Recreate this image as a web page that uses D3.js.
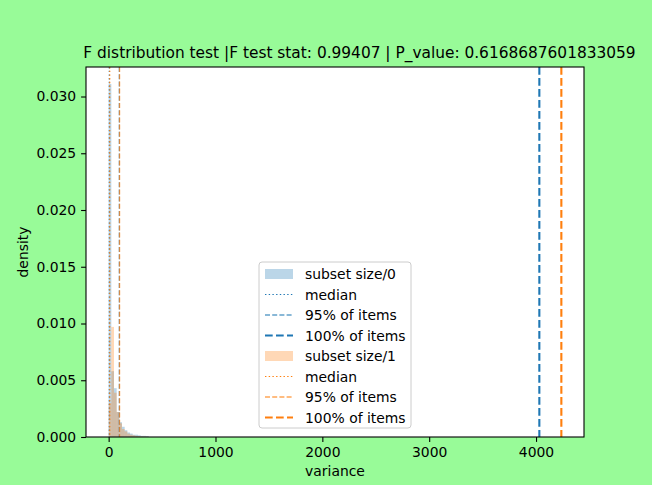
<!DOCTYPE html>
<html>
<head>
<meta charset="utf-8">
<script src="https://cdn.jsdelivr.net/npm/d3@7"></script>
<style>
  body { margin: 0; background: #98fb98; }
  svg { display: block; font-family: "DejaVu Sans", sans-serif; }
</style>
</head>
<body>
<div id="chart"></div>
<script>
// chart values
var titleText = "F distribution test |F test stat: 0.99407 | P_value: 0.6168687601833059";
var subsets = ["subset size/0", "subset size/1"];
var colors = ["#1f77b4", "#ff7f0e"];

// histogram bin edges (variance) and density per bin
var binEdges = [0, 25, 50, 75, 100, 125, 150, 175, 200, 225, 250, 275, 300, 325, 350, 375];
var density0 = [0.0311, 0.0058, 0.0043, 0.0022, 0.0013, 0.0009, 0.0006, 0.0004, 0.0003, 0.0002, 0.0002, 0.00015, 0.0001, 0.0001, 0.00008];
var density1 = [0.0030, 0.0097, 0.0039, 0.0022, 0.0012, 0.0007, 0.0005, 0.0003, 0.0002, 0.00015, 0.0001, 0.00008, 0.00005, 0.00004, 0.00003];

// vertical marker lines
var medians = [6, 10];
var pct95 = [100, 102];
var pct100 = [4031, 4237];

var xTicks = [0, 1000, 2000, 3000, 4000];
var yTicks = [0, 0.005, 0.010, 0.015, 0.020, 0.025, 0.030];
var xDomain = [-212, 4449];
var yDomain = [0, 0.0326];

var svgWidth = 652;
var svgHeight = 485;
var margin = { top: 67, right: 68, bottom: 48, left: 86 };
var width = svgWidth - margin.left - margin.right;
var height = svgHeight - margin.top - margin.bottom;

var svg = d3.select("#chart")
  .append("svg")
  .attr("width", svgWidth)
  .attr("height", svgHeight);

svg.append("rect")
  .attr("width", svgWidth)
  .attr("height", svgHeight)
  .attr("fill", "#98fb98");

var chartGroup = svg.append("g")
  .attr("transform", `translate(${margin.left}, ${margin.top})`);

chartGroup.append("rect")
  .attr("width", width)
  .attr("height", height)
  .attr("fill", "white");

var xScale = d3.scaleLinear().domain(xDomain).range([0, width]);
var yScale = d3.scaleLinear().domain(yDomain).range([height, 0]);

// histograms
[density0, density1].forEach(function(dens, k) {
  chartGroup.append("g")
    .selectAll("rect")
    .data(dens)
    .enter()
    .append("rect")
    .attr("x", (d, i) => xScale(binEdges[i]))
    .attr("width", (d, i) => xScale(binEdges[i + 1]) - xScale(binEdges[i]))
    .attr("y", d => yScale(d))
    .attr("height", d => height - yScale(d))
    .attr("fill", colors[k])
    .attr("fill-opacity", 0.3);
});

// line styles (matplotlib: dotted, dashed, thick dashed)
var styles = {
  median: { w: 1.2, dash: "1.4,2.3", op: 1 },
  p95: { w: 1.3, dash: "5,2.2", op: 0.7 },
  p100: { w: 2.1, dash: "7.7,3.3", op: 1 }
};

function vline(value, color, st) {
  chartGroup.append("line")
    .attr("x1", xScale(value)).attr("x2", xScale(value))
    .attr("y1", 0).attr("y2", height)
    .attr("stroke", color)
    .attr("stroke-width", st.w)
    .attr("stroke-dasharray", st.dash)
    .attr("stroke-opacity", st.op);
}

[0, 1].forEach(function(k) {
  vline(medians[k], colors[k], styles.median);
  vline(pct95[k], colors[k], styles.p95);
  vline(pct100[k], colors[k], styles.p100);
});

// axes
var bottomAxis = d3.axisBottom(xScale).tickValues(xTicks).tickFormat(d3.format("d")).tickSize(4.9).tickPadding(4.9);
var leftAxis = d3.axisLeft(yScale).tickValues(yTicks).tickFormat(d3.format(".3f")).tickSize(4.9).tickPadding(4.9);

var gx = chartGroup.append("g")
  .attr("transform", `translate(0, ${height})`)
  .call(bottomAxis);
var gy = chartGroup.append("g").call(leftAxis);

[gx, gy].forEach(function(g) {
  g.select(".domain").remove();
  g.selectAll("text").attr("font-size", 13.9).attr("fill", "black").attr("font-family", "DejaVu Sans");
  g.selectAll("line").attr("stroke", "black").attr("stroke-width", 1.1);
});

// spines
chartGroup.append("rect")
  .attr("width", width)
  .attr("height", height)
  .attr("fill", "none")
  .attr("stroke", "black")
  .attr("stroke-width", 1.1);

// axis labels
chartGroup.append("text")
  .attr("x", width / 2)
  .attr("y", height + 39)
  .attr("text-anchor", "middle")
  .attr("font-size", 13.9)
  .text("variance");

chartGroup.append("text")
  .attr("transform", "rotate(-90)")
  .attr("x", -height / 2)
  .attr("y", -58)
  .attr("text-anchor", "middle")
  .attr("font-size", 13.9)
  .text("density");

// title, shrunk so it spans the same width as in the picture
var title = svg.append("text")
  .attr("x", 359.5)
  .attr("y", 58)
  .attr("text-anchor", "middle")
  .attr("font-size", 16)
  .text(titleText);
var tw = title.node().getComputedTextLength();
title.attr("font-size", 16 * 553 / tw);

// legend
var legendLabels = ["subset size/0", "median", "95% of items", "100% of items",
                    "subset size/1", "median", "95% of items", "100% of items"];
var legendKinds = ["patch", "median", "p95", "p100", "patch", "median", "p95", "p100"];

var lg = svg.append("g").attr("transform", "translate(259, 262)");
lg.append("rect")
  .attr("width", 152)
  .attr("height", 166)
  .attr("rx", 3)
  .attr("fill", "white")
  .attr("fill-opacity", 0.8)
  .attr("stroke", "#cccccc")
  .attr("stroke-width", 1);

legendLabels.forEach(function(label, i) {
  var cy = 12 + i * 20.5;
  var color = colors[i < 4 ? 0 : 1];
  var kind = legendKinds[i];
  if (kind === "patch") {
    lg.append("rect")
      .attr("x", 6).attr("y", cy - 5)
      .attr("width", 28).attr("height", 10)
      .attr("fill", color).attr("fill-opacity", 0.3);
  } else {
    var st = styles[kind];
    lg.append("line")
      .attr("x1", 6).attr("x2", 34)
      .attr("y1", cy).attr("y2", cy)
      .attr("stroke", color)
      .attr("stroke-width", st.w)
      .attr("stroke-dasharray", st.dash)
      .attr("stroke-opacity", st.op);
  }
  lg.append("text")
    .attr("x", 46)
    .attr("y", cy + 5)
    .attr("font-size", 13.9)
    .text(label);
});
</script>
</body>
</html>
